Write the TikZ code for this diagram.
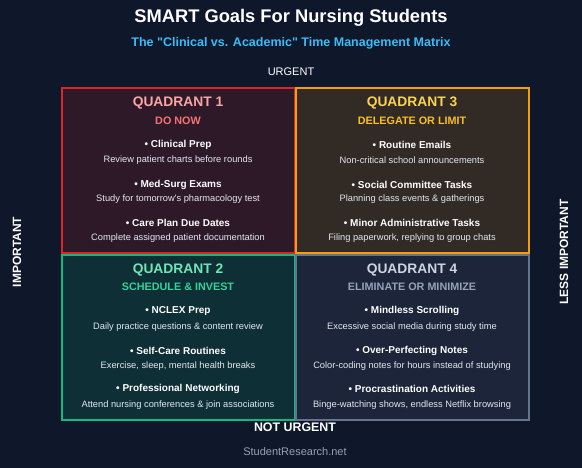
\documentclass[tikz,border=0pt]{standalone}
\usepackage{fontspec}
\setmainfont{Liberation Sans}[Ligatures=TeXOff]
\newcommand{\fsz}[1]{\fontsize{#1}{#1}\selectfont}

\definecolor{bgnavy}{HTML}{0F172A}
\definecolor{skyblue}{HTML}{38BDF8}
\definecolor{notegray}{HTML}{E2E8F0}
\definecolor{footgray}{HTML}{94A3B8}
% quadrant colours: fill, border, title, subtitle
\definecolor{qonefill}{RGB}{46,25,41}   \definecolor{qoneline}{HTML}{DC2626}
\definecolor{qonetitle}{HTML}{FCA5A5}   \definecolor{qonesub}{HTML}{F87171}
\definecolor{qtwofill}{RGB}{15,47,55}   \definecolor{qtwoline}{HTML}{10B981}
\definecolor{qtwotitle}{HTML}{6EE7B7}   \definecolor{qtwosub}{HTML}{34D399}
\definecolor{qthreefill}{RGB}{50,43,37} \definecolor{qthreeline}{HTML}{F59E0B}
\definecolor{qthreetitle}{HTML}{FCD34D} \definecolor{qthreesub}{HTML}{FBBF24}
\definecolor{qfourfill}{RGB}{28,37,57}  \definecolor{qfourline}{HTML}{64748B}
\definecolor{qfourtitle}{HTML}{CBD5E1}  \definecolor{qfoursub}{HTML}{94A3B8}

\begin{document}
\begin{tikzpicture}[x=1pt,y=-1pt,
    qbox/.style={draw,line width=2pt,minimum width=233pt,minimum height=165pt,inner sep=0pt,outer sep=0pt},
    qtitle/.style={font=\fsz{13.8}\bfseries,inner sep=0pt},
    qsub/.style={font=\fsz{10.8}\bfseries,inner sep=0pt},
    task/.style={font=\fsz{10}\bfseries,text=white,inner sep=0pt},
    note/.style={font=\fsz{9.3},text=notegray,inner sep=0pt},
    axis/.style={font=\fsz{11},text=white,inner sep=0pt}]
      \fill[bgnavy] (0,0) rectangle (582,468);
      \useasboundingbox (0,0) rectangle (582,468);
      % heading
      \node[font=\fsz{18.3}\bfseries,text=white] (title) at (291,18) {SMART Goals For Nursing Students};
      \node[font=\fsz{12.5}\bfseries,text=skyblue] (subtitle) at (291,43) {The "Clinical vs. Academic" Time Management Matrix};
      \node[axis] (urgent) at (291,72) {URGENT};
      % the four boxes
      \node[qbox,fill=qonefill,draw=qoneline]     (q1) at (178,171)   {};
      \node[qbox,fill=qthreefill,draw=qthreeline] (q3) at (412,171)   {};
      \node[qbox,fill=qtwofill,draw=qtwoline]     (q2) at (178,337.5) {};
      \node[qbox,fill=qfourfill,draw=qfourline]   (q4) at (412,337.5) {};
      % quadrant 1
      \node[qtitle,text=qonetitle] (q1t) at ([yshift=-15pt]q1.north) {QUADRANT 1};
      \node[qsub,text=qonesub]     (q1s) at ([yshift=-32pt]q1.north) {DO NOW};
      \node[task] (q1a)  at ([yshift=-56pt]q1.north)  {• Clinical Prep};
      \node[note] (q1an) at ([yshift=-72pt]q1.north)  {Review patient charts before rounds};
      \node[task] (q1b)  at ([yshift=-96pt]q1.north)  {• Med-Surg Exams};
      \node[note] (q1bn) at ([yshift=-111pt]q1.north) {Study for tomorrow's pharmacology test};
      \node[task] (q1c)  at ([yshift=-134pt]q1.north) {• Care Plan Due Dates};
      \node[note] (q1cn) at ([yshift=-150pt]q1.north) {Complete assigned patient documentation};
      % quadrant 3
      \node[qtitle,text=qthreetitle] (q3t) at ([yshift=-15pt]q3.north) {QUADRANT 3};
      \node[qsub,text=qthreesub]     (q3s) at ([yshift=-32pt]q3.north) {DELEGATE OR LIMIT};
      \node[task] (q3a)  at ([yshift=-56pt]q3.north)  {• Routine Emails};
      \node[note] (q3an) at ([yshift=-72pt]q3.north)  {Non-critical school announcements};
      \node[task] (q3b)  at ([yshift=-96pt]q3.north)  {• Social Committee Tasks};
      \node[note] (q3bn) at ([yshift=-111pt]q3.north) {Planning class events \& gatherings};
      \node[task] (q3c)  at ([yshift=-134pt]q3.north) {• Minor Administrative Tasks};
      \node[note] (q3cn) at ([yshift=-150pt]q3.north) {Filing paperwork, replying to group chats};
      % quadrant 2
      \node[qtitle,text=qtwotitle] (q2t) at ([yshift=-15pt]q2.north) {QUADRANT 2};
      \node[qsub,text=qtwosub]     (q2s) at ([yshift=-32pt]q2.north) {SCHEDULE \& INVEST};
      \node[task] (q2a)  at ([yshift=-56pt]q2.north)  {• NCLEX Prep};
      \node[note] (q2an) at ([yshift=-72pt]q2.north)  {Daily practice questions \& content review};
      \node[task] (q2b)  at ([yshift=-96pt]q2.north)  {• Self-Care Routines};
      \node[note] (q2bn) at ([yshift=-111pt]q2.north) {Exercise, sleep, mental health breaks};
      \node[task] (q2c)  at ([yshift=-134pt]q2.north) {• Professional Networking};
      \node[note] (q2cn) at ([yshift=-150pt]q2.north) {Attend nursing conferences \& join associations};
      % quadrant 4
      \node[qtitle,text=qfourtitle] (q4t) at ([yshift=-15pt]q4.north) {QUADRANT 4};
      \node[qsub,text=qfoursub]     (q4s) at ([yshift=-32pt]q4.north) {ELIMINATE OR MINIMIZE};
      \node[task] (q4a)  at ([yshift=-56pt]q4.north)  {• Mindless Scrolling};
      \node[note] (q4an) at ([yshift=-72pt]q4.north)  {Excessive social media during study time};
      \node[task] (q4b)  at ([yshift=-96pt]q4.north)  {• Over-Perfecting Notes};
      \node[note] (q4bn) at ([yshift=-111pt]q4.north) {Color-coding notes for hours instead of studying};
      \node[task] (q4c)  at ([yshift=-134pt]q4.north) {• Procrastination Activities};
      \node[note] (q4cn) at ([yshift=-150pt]q4.north) {Binge-watching shows, endless Netflix browsing};
      % axis labels and footer
      \node[axis,font=\fsz{12.4}\bfseries] (noturgent) at (295,427) {NOT URGENT};
      \node[axis,font=\fsz{12}\bfseries,rotate=90] (important) at (17,252) {IMPORTANT};
      \node[axis,font=\fsz{12}\bfseries,rotate=90] (lessimp) at (564,252) {LESS IMPORTANT};
      \node[font=\fsz{11},text=footgray] (footer) at (295,452) {StudentResearch.net};
     \end{tikzpicture}
\end{document}
